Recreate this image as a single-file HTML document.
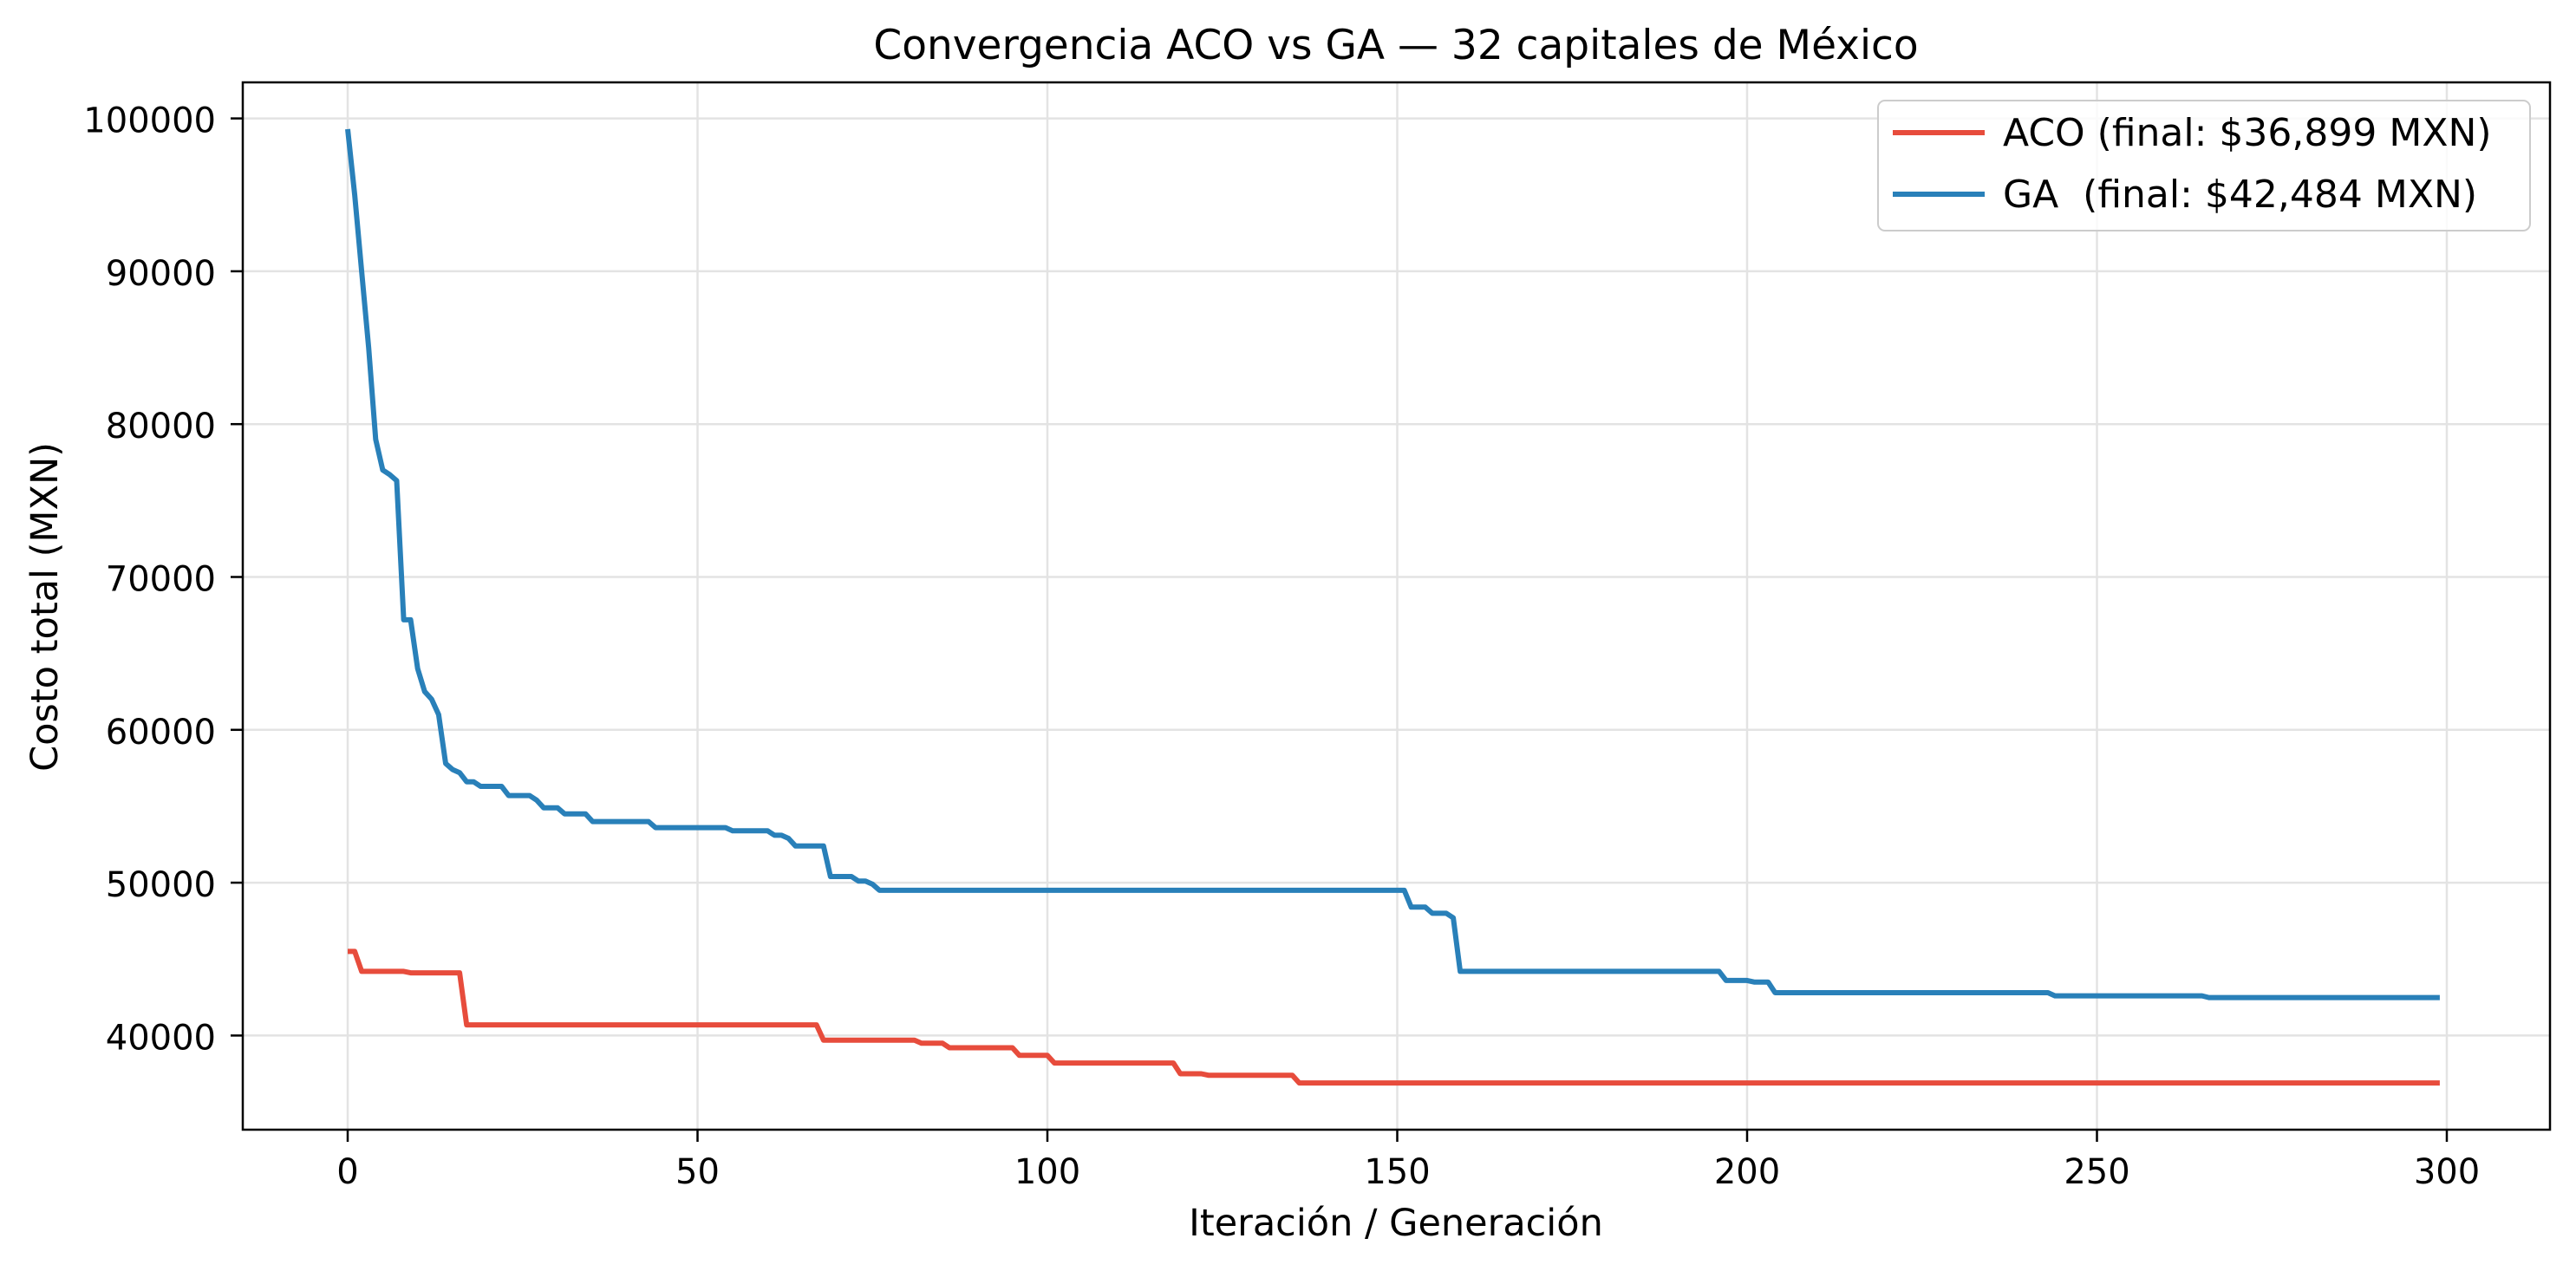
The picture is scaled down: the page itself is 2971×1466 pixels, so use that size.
<!DOCTYPE html>
<html><head><meta charset="utf-8"><style>
html,body{margin:0;padding:0;background:#fff;}
svg{display:block;font-family:"DejaVu Sans","Liberation Sans",sans-serif;}
</style></head><body>
<svg id="chart" width="2971" height="1466" viewBox="0 0 2971 1466" xmlns="http://www.w3.org/2000/svg">
<rect x="0" y="0" width="2971" height="1466" fill="#fff"/>
<g id="grid"></g>
<g id="series"></g>
<rect x="280" y="95" width="2661" height="1208" fill="none" stroke="#000" stroke-width="2.5"/>
<g id="axes"></g>
<text x="1610" y="68" font-size="47" text-anchor="middle">Convergencia ACO vs GA — 32 capitales de México</text>
<text x="1610" y="1425" font-size="43" text-anchor="middle">Iteración / Generación</text>
<text transform="translate(66,700) rotate(-90)" font-size="43" text-anchor="middle">Costo total (MXN)</text>
<g>
<rect x="2166" y="116" width="752" height="150" rx="8" fill="#fff" fill-opacity="0.8" stroke="#ccc" stroke-width="2"/>
<line x1="2183" y1="153" x2="2289" y2="153" stroke="#e74c3c" stroke-width="6"/>
<text x="2310" y="168" font-size="44">ACO (final: $36,899 MXN)</text>
<line x1="2183" y1="224" x2="2289" y2="224" stroke="#2980b9" stroke-width="6"/>
<text x="2310" y="239" font-size="44" xml:space="preserve">GA  (final: $42,484 MXN)</text>
</g>
</svg>
<script>
const xTicks = [0, 50, 100, 150, 200, 250, 300];
const yTicks = [40000, 50000, 60000, 70000, 80000, 90000, 100000];
const lastIter = 299;
// Step breakpoints: iteration where a new best value starts, and that value
const acoIter = [0, 2, 9, 17, 68, 82, 86, 96, 101, 119, 123, 136];
const acoVal  = [45500, 44200, 44100, 40700, 39700, 39500, 39200, 38700, 38200, 37500, 37400, 36899];
const gaIter = [0, 1, 2, 3, 4, 5, 6, 7, 8, 10, 11, 12, 13, 14, 15, 16, 17, 19, 23, 27, 28, 31, 35, 44, 55, 61, 63, 64, 69, 73, 75, 76, 152, 155, 158, 159, 197, 201, 204, 244, 266];
const gaVal  = [99300, 95000, 90000, 85000, 79000, 77000, 76700, 76300, 67200, 64000, 62500, 62000, 61000, 57800, 57400, 57200, 56600, 56300, 55700, 55400, 54900, 54500, 54000, 53600, 53400, 53100, 52900, 52400, 50400, 50100, 49900, 49500, 48400, 48000, 47700, 44200, 43600, 43500, 42800, 42600, 42484];

const NS = 'http://www.w3.org/2000/svg';
const L = 280, R = 2941, T = 95, B = 1303;
function xs(v){ return 401 + v * 8.07; }
function ys(v){ return 136.6 + (100000 - v) / 10000 * 176.3; }
function mk(tag, attrs, parent){ const e = document.createElementNS(NS, tag); for (const k in attrs) e.setAttribute(k, attrs[k]); parent.appendChild(e); return e; }
const grid = document.getElementById('grid'), axes = document.getElementById('axes'), ser = document.getElementById('series');
xTicks.forEach(t => {
  const x = xs(t);
  const g = mk('line', {x1:x, y1:T, x2:x, y2:B, stroke:'#e3e3e3', 'stroke-width':2.5}, grid);
  
  
  const tk = mk('line', {x1:x, y1:B, x2:x, y2:B+14, stroke:'#000', 'stroke-width':2.5}, axes);
  
  
  const lb = mk('text', {x:x, y:1365, 'font-size':40, 'text-anchor':'middle'}, axes);
  lb.textContent = t;
  
  
});
yTicks.forEach(t => {
  const y = ys(t);
  const g = mk('line', {x1:L, y1:y, x2:R, y2:y, stroke:'#e3e3e3', 'stroke-width':2.5}, grid);
  
  
  const tk = mk('line', {x1:L-14, y1:y, x2:L, y2:y, stroke:'#000', 'stroke-width':2.5}, axes);
  
  
  const lb = mk('text', {x:249, y:y+16, 'font-size':40, 'text-anchor':'end'}, axes);
  lb.textContent = t;
  
  
});
function stepPath(iters, vals){
  const pts = [];
  for (let k = 0; k < iters.length; k++){
    pts.push([xs(iters[k]), ys(vals[k])]);
    const endI = (k + 1 < iters.length) ? iters[k+1] - 1 : lastIter;
    if (endI > iters[k]) pts.push([xs(endI), ys(vals[k])]);
  }
  return 'M' + pts.map(p => p[0].toFixed(1) + ',' + p[1].toFixed(1)).join('L');
}
const ga = mk('path', {d: stepPath(gaIter, gaVal), fill:'none', stroke:'#2980b9', 'stroke-width':6, 'stroke-linejoin':'round'}, ser);


const aco = mk('path', {d: stepPath(acoIter, acoVal), fill:'none', stroke:'#e74c3c', 'stroke-width':6, 'stroke-linejoin':'round'}, ser);


</script>
</body></html>
